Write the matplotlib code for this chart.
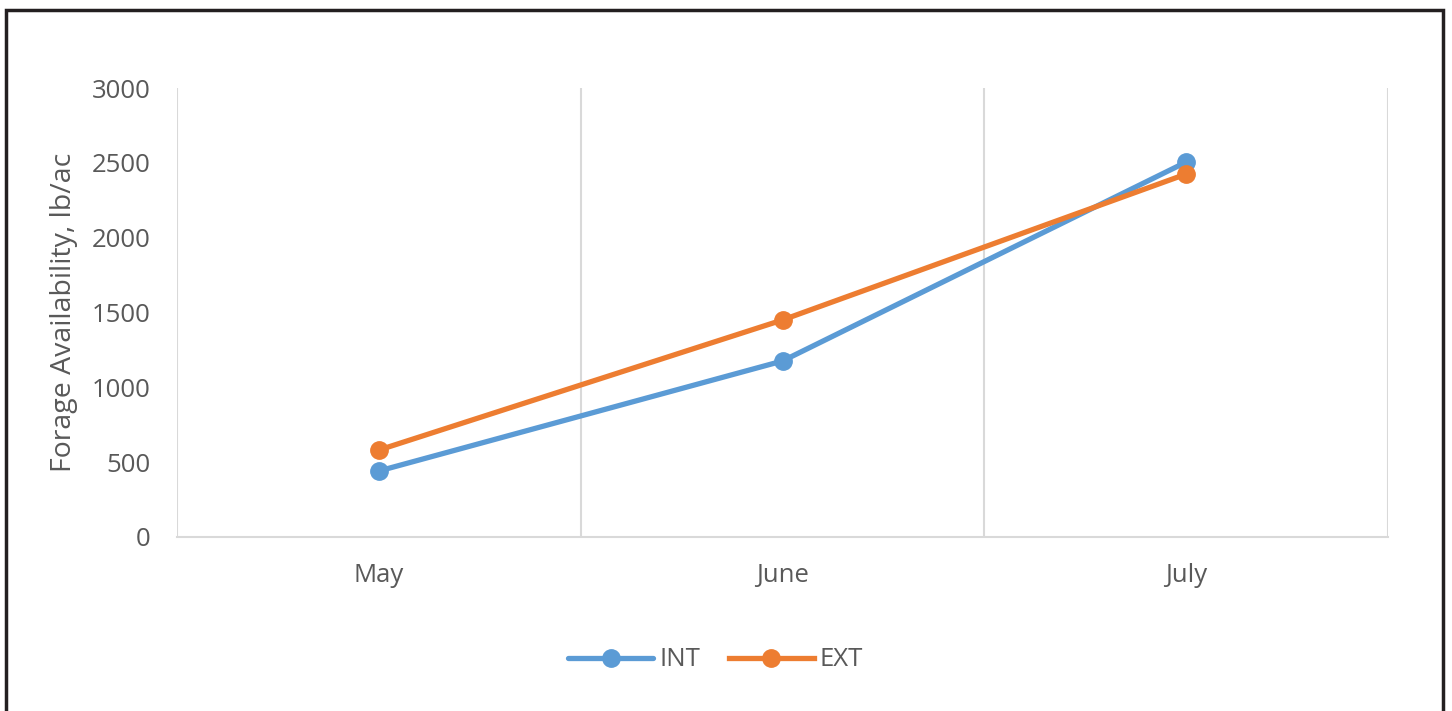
import matplotlib.pyplot as plt
import matplotlib.patches as mpatches
from matplotlib.ticker import FixedLocator

months = ['May', 'June', 'July']
int_vals = [441, 1176, 2505]
ext_vals = [581, 1450, 2425]

plt.rcParams['font.family'] = ['Open Sans', 'DejaVu Sans']

txt = '#595959'
grid = '#D9D9D9'
blue = '#5B9BD5'
orange = '#ED7D31'


def main():
    fig = plt.figure(figsize=(14.52, 7.11), dpi=100)
    ax = fig.add_axes([177 / 1452, 1 - 537 / 711, (1388 - 177) / 1452, (537 - 88) / 711])

    xs = [i + 0.5 for i in range(len(months))]
    ax.plot(xs, int_vals, '-o', color=blue, lw=3.8, ms=12.5, label='INT', solid_capstyle='round')
    ax.plot(xs, ext_vals, '-o', color=orange, lw=3.8, ms=12.5, label='EXT')

    ax.set_xlim(0, len(months))
    ax.set_ylim(0, 3000)
    ax.set_yticks(range(0, 3001, 500))
    ax.set_xticks(xs)
    ax.set_xticklabels(months)
    ax.xaxis.set_minor_locator(FixedLocator(range(0, len(months) + 1)))
    ax.grid(which='minor', axis='x', color=grid, lw=1.5)
    ax.tick_params(which='both', length=0)
    ax.tick_params(axis='x', pad=19, labelsize=18.5, labelcolor=txt)
    ax.tick_params(axis='y', pad=19, labelsize=18.5, labelcolor=txt)

    for s in ['top', 'right', 'left']:
        ax.spines[s].set_visible(False)
    ax.spines['bottom'].set_color(grid)
    ax.spines['bottom'].set_linewidth(1.5)

    ax.set_ylabel('Forage Availability, lb/ac', fontsize=20.5, color=txt, labelpad=10)

    fig.legend(loc='center', bbox_to_anchor=(0.493, 1 - 660 / 711), ncol=2, frameon=False,
               fontsize=18.5, labelcolor=txt, handlelength=3.3, columnspacing=1.1, handletextpad=0.25)

    # outer frame, bottom edge falls outside the picture
    fig.patches.append(mpatches.Rectangle((6 / 1452, -0.1), (1443 - 6) / 1452, 1.1 - 10 / 711,
                                          transform=fig.transFigure, fill=False,
                                          edgecolor='#231F20', lw=2.5, figure=fig))

    plt.savefig('out.png', dpi=100)


if __name__ == '__main__':
    main()
